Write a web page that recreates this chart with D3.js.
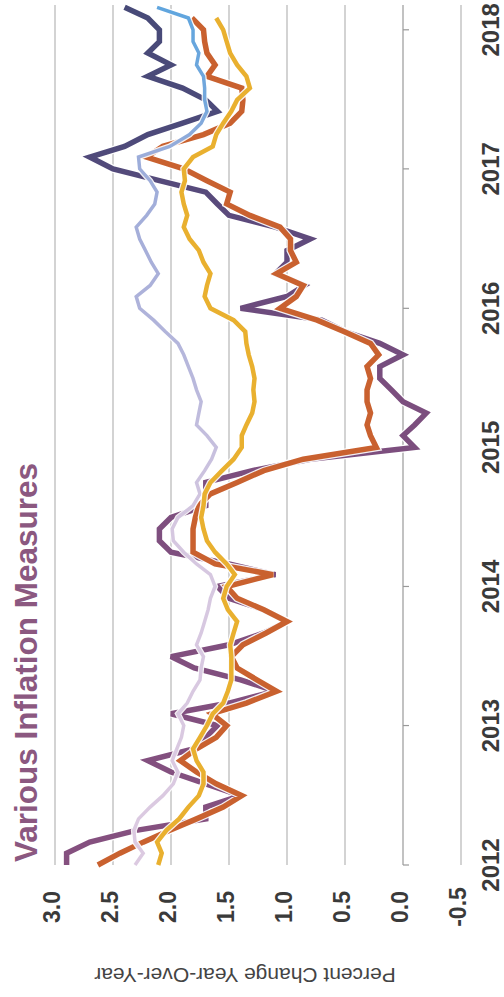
<!DOCTYPE html>
<html>
<head>
<meta charset="utf-8">
<script src="https://cdn.jsdelivr.net/npm/d3@7"></script>
<style>
  html, body { margin: 0; padding: 0; background: #fff; }
  svg { display: block; }
  text { font-family: "Liberation Sans", Arial, sans-serif; }
</style>
</head>
<body>
<svg id="chart" width="504" height="997"></svg>
<script>
// Monthly year-over-year inflation, Jan 2012 onward
const startMonth = new Date(2012, 0, 1);

const cpi = [
  2.9, 2.9, 2.7, 2.3, 1.7, 1.7, 1.4, 1.7, 2.0, 2.2, 1.8, 1.7,
  1.6, 2.0, 1.5, 1.1, 1.4, 1.8, 2.0, 1.5, 1.2, 1.0, 1.2, 1.5,
  1.6, 1.1, 1.5, 2.0, 2.1, 2.1, 2.0, 1.7, 1.7, 1.7, 1.3, 0.8,
  -0.1, 0.0, -0.1, -0.2, 0.0, 0.1, 0.2, 0.2, 0.0, 0.2, 0.5, 0.7,
  1.4, 1.0, 0.85, 1.1, 1.0, 1.0, 0.8, 1.1, 1.5, 1.6, 1.7, 2.1,
  2.5, 2.7, 2.4, 2.2, 1.9, 1.6, 1.7, 1.9, 2.2, 2.0, 2.2, 2.1,
  2.1, 2.2, 2.4
];

const pce = [
  2.63, 2.44, 2.24, 2.01, 1.78, 1.55, 1.39, 1.61, 1.78, 1.92, 1.78, 1.61,
  1.52, 1.65, 1.35, 1.09, 1.26, 1.43, 1.48, 1.38, 1.18, 1.0, 1.2, 1.43,
  1.52, 1.12, 1.62, 1.81, 1.81, 1.81, 1.79, 1.76, 1.66, 1.43, 1.2, 0.86,
  0.23, 0.28, 0.31, 0.28, 0.31, 0.31, 0.28, 0.31, 0.21, 0.28, 0.51, 0.74,
  1.06, 0.92, 0.86, 1.09, 0.92, 0.97, 0.97, 1.06, 1.32, 1.52, 1.49, 1.69,
  1.89, 2.21, 2.07, 1.72, 1.49, 1.39, 1.38, 1.39, 1.69, 1.62, 1.69, 1.71,
  1.72, 1.82
];

const corePce = [
  2.11, 2.08, 2.12, 2.04, 1.93, 1.85, 1.76, 1.72, 1.72, 1.78, 1.81, 1.75,
  1.69, 1.64, 1.55, 1.51, 1.48, 1.48, 1.48, 1.49, 1.46, 1.43, 1.51, 1.55,
  1.52, 1.45, 1.52, 1.62, 1.69, 1.72, 1.74, 1.72, 1.71, 1.66, 1.56, 1.46,
  1.39, 1.39, 1.35, 1.30, 1.28, 1.29, 1.28, 1.30, 1.33, 1.35, 1.36, 1.46,
  1.66, 1.71, 1.69, 1.66, 1.72, 1.76, 1.84, 1.89, 1.86, 1.89, 1.91, 1.88,
  1.89, 1.81, 1.64, 1.61, 1.55, 1.48, 1.43, 1.32, 1.35, 1.43, 1.49, 1.52,
  1.55, 1.61
];

const coreCpi = [
  2.31, 2.24, 2.31, 2.32, 2.28, 2.18, 2.07, 1.98, 1.94, 1.99, 1.95, 1.91,
  1.89, 1.94, 1.86, 1.81, 1.75, 1.74, 1.72, 1.78, 1.74, 1.71, 1.68, 1.66,
  1.62, 1.66, 1.78, 1.89, 1.98, 1.99, 1.94, 1.81, 1.75, 1.78, 1.71, 1.65,
  1.61, 1.69, 1.78, 1.76, 1.74, 1.78, 1.81, 1.85, 1.89, 1.94, 2.05, 2.15,
  2.27, 2.30, 2.18, 2.11, 2.17, 2.22, 2.27, 2.30, 2.21, 2.14, 2.12, 2.18,
  2.27, 2.28, 2.01, 1.84, 1.74, 1.69, 1.71, 1.71, 1.72, 1.78, 1.76, 1.81,
  1.81, 1.85, 2.12
];

const yearTicks = ["2012", "2013", "2014", "2015", "2016", "2017", "2018"];
const valueTicks = [3.0, 2.5, 2.0, 1.5, 1.0, 0.5, 0.0, -0.5];

const svg = d3.select("#chart");

// The chart is laid on its side: time runs bottom-to-top, values left-to-right.
const plotTop = 5, plotBottom = 865;
const t = d3.scaleTime()
  .domain([new Date(2012, 0, 1), new Date(2018, 0, 1)])
  .range([plotBottom, 29.8]);
const v = d3.scaleLinear().domain([3.0, -0.5]).range([55, 461]);

// gradients for the two lines whose tint drifts over time
const defs = svg.append("defs");
function vGradient(id, stops) {
  const g = defs.append("linearGradient")
    .attr("id", id).attr("gradientUnits", "userSpaceOnUse")
    .attr("x1", 0).attr("x2", 0).attr("y1", plotBottom).attr("y2", 0);
  stops.forEach(([o, c]) => g.append("stop").attr("offset", o).attr("stop-color", c));
}
vGradient("gCpi", [[0, "#85507f"], [0.55, "#7b4e7e"], [0.72, "#604a7c"], [0.84, "#4d4a7a"], [1, "#474a78"]]);
vGradient("gCore", [[0, "#dccae1"], [0.4, "#d5c7e0"], [0.55, "#bab9dc"], [0.7, "#a8afd9"], [0.82, "#9cadda"], [0.88, "#74a7dc"], [1, "#5ea5de"]]);

// grid
svg.append("g").selectAll("line").data(valueTicks).join("line")
  .attr("x1", d => v(d)).attr("x2", d => v(d))
  .attr("y1", plotTop).attr("y2", plotBottom)
  .attr("stroke", d => d === 0 ? "#a8a8a8" : "#c0c0c0")
  .attr("stroke-width", 1.4);

// year ticks on the zero line
svg.append("g").selectAll("line").data(yearTicks).join("line")
  .attr("x1", v(0)).attr("x2", v(0) + 6)
  .attr("y1", d => t(new Date(+d, 0, 1))).attr("y2", d => t(new Date(+d, 0, 1)))
  .attr("stroke", "#999").attr("stroke-width", 1.2);

// series
const monthOf = i => d3.timeMonth.offset(startMonth, i);
const line = d3.line()
  .x(d => v(d))
  .y((d, i) => t(monthOf(i)));

const series = [
  { data: cpi, stroke: "url(#gCpi)", width: 5.5 },
  { data: pce, stroke: "#c9612f", width: 5.5 },
  { data: coreCpi, stroke: "url(#gCore)", width: 3.5 },
  { data: corePce, stroke: "#e9b02f", width: 4.5 }
];

const lines = svg.append("g").attr("fill", "none")
  .attr("stroke-linejoin", "miter").attr("stroke-miterlimit", 3);
series.forEach(s => {
  lines.append("path").attr("d", line(s.data))
    .attr("stroke", "#fff").attr("stroke-width", s.width + 2.5).attr("opacity", 0.9);
  lines.append("path").attr("d", line(s.data))
    .attr("stroke", s.stroke).attr("stroke-width", s.width);
});

// value labels along the bottom (plain hyphen for negatives)
const fmt = d => d3.format(".1f")(d).replace("\u2212", "-");
svg.append("g").selectAll("text").data(valueTicks).join("text")
  .attr("transform", d => `translate(${v(d) - 3},907) rotate(-90)`)
  .attr("text-anchor", "middle").attr("dy", "0.35em")
  .attr("font-size", 23).attr("font-weight", "bold").attr("fill", "#3a3a3a")
  .text(fmt);

// year labels along the right
svg.append("g").selectAll("text").data(yearTicks).join("text")
  .attr("transform", d => `translate(491,${t(new Date(+d, 0, 1))}) rotate(-90)`)
  .attr("text-anchor", "middle").attr("dy", "0.35em")
  .attr("font-size", 24).attr("font-weight", "bold").attr("fill", "#3a3a3a")
  .text(d => d);

// value axis title
svg.append("text")
  .attr("transform", "translate(245,975) rotate(180)")
  .attr("text-anchor", "middle").attr("dy", "0.35em")
  .attr("font-size", 21).attr("fill", "#444")
  .text("Percent Change Year-Over-Year");

// chart title
svg.append("text")
  .attr("transform", "translate(37,862) rotate(-90)")
  .attr("text-anchor", "start")
  .attr("font-size", 31.5).attr("font-weight", "bold").attr("fill", "#8b5880")
  .text("Various Inflation Measures");
</script>
</body>
</html>
